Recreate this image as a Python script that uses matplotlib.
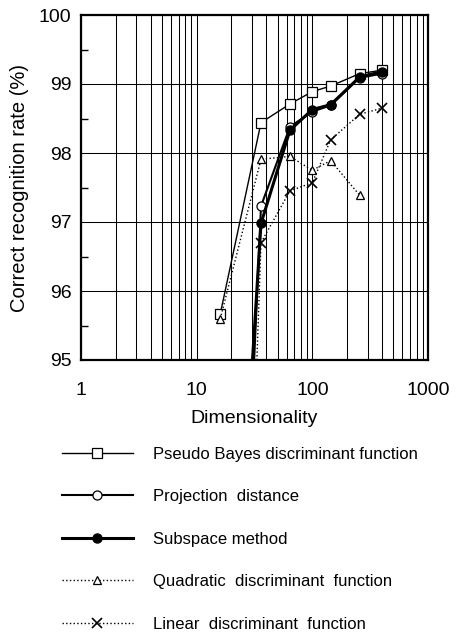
import matplotlib
matplotlib.use("Agg")
import matplotlib.pyplot as plt
from matplotlib.ticker import FixedLocator, NullFormatter

plt.rcParams["font.family"] = ["Liberation Sans", "DejaVu Sans"]

# dimensionality (square numbers 4^2 .. 20^2)
dims = [16, 36, 64, 100, 144, 256, 400]

# correct recognition rate (%)
pseudo_bayes = [95.67, 98.44, 98.71, 98.89, 98.97, 99.15, 99.20]
projection = [84.0, 97.23, 98.38, 98.60, 98.69, 99.09, 99.15]
subspace = [87.5, 96.98, 98.33, 98.63, 98.70, 99.10, 99.18]
quadratic = [95.60, 97.91, 97.95, 97.75, 97.89, 97.39]
linear = [80.0, 96.70, 97.45, 97.57, 98.19, 98.56, 98.65]

labels = [
    "Pseudo Bayes discriminant function",
    "Projection  distance",
    "Subspace method",
    "Quadratic  discriminant  function",
    "Linear  discriminant  function",
]

fig = plt.figure(figsize=(4.6, 6.35), dpi=100)
ax = fig.add_axes([81 / 460, 1 - 360 / 635, 347 / 460, 345 / 635])

h1, = ax.plot(dims, pseudo_bayes, "-", color="black", lw=1.0,
              marker="s", ms=6.5, mfc="white", mec="black", mew=0.9)
h2, = ax.plot(dims, projection, "-", color="black", lw=1.5,
              marker="o", ms=6.5, mfc="white", mec="black", mew=0.9)
h3, = ax.plot(dims, subspace, "-", color="black", lw=2.2,
              marker="o", ms=6.5, mfc="black", mec="black")
h4, = ax.plot(dims[:len(quadratic)], quadratic, ":", color="black", lw=1.0,
              marker="^", ms=6, mfc="white", mec="black", mew=0.9)
h5, = ax.plot(dims, linear, ":", color="black", lw=1.0,
              marker="x", ms=7, mec="black", mew=1.2)

ax.set_xscale("log")
ax.set_xlim(1, 1000)
ax.set_ylim(95, 100)
ax.set_xticks([1, 10, 100, 1000])
ax.set_xticklabels(["1", "10", "100", "1000"])
ax.xaxis.set_minor_formatter(NullFormatter())
ax.set_yticks([95, 96, 97, 98, 99, 100])
ax.yaxis.set_minor_locator(FixedLocator([95.5, 96.5, 97.5, 98.5, 99.5]))

ax.grid(True, which="both", axis="x", color="black", lw=0.75)
ax.grid(True, which="major", axis="y", color="black", lw=0.75)

ax.tick_params(which="both", direction="in", labelsize=14, color="black")
ax.tick_params(axis="x", which="both", length=0, pad=16)
ax.tick_params(axis="y", which="major", length=0, pad=7)
ax.tick_params(axis="y", which="minor", length=5, width=1)
for s in ax.spines.values():
    s.set_linewidth(1.6)

ax.set_xlabel("Dimensionality", fontsize=14, labelpad=8)
ax.set_ylabel("Correct recognition rate (%)", fontsize=14.5, labelpad=7)

fig.legend([h1, h2, h3, h4, h5], labels, loc="upper left",
           bbox_to_anchor=(55 / 460, 1 - 440 / 635), frameon=False,
           fontsize=12, handlelength=4.3, handletextpad=1.2,
           labelspacing=1.65, borderaxespad=0)

fig.savefig("out.png", dpi=100)
